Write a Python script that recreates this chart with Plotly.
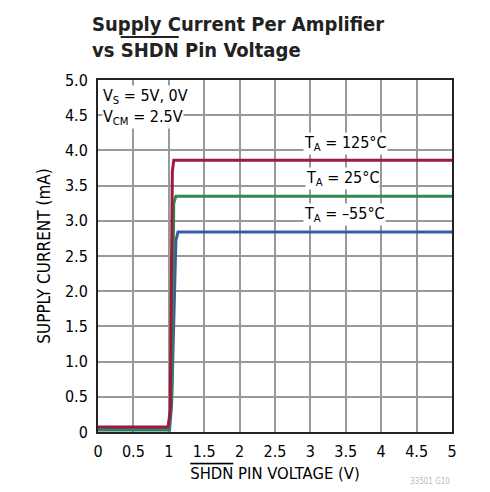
import plotly.graph_objects as go

# Data
x_125 = [0, 0.99, 1.02, 1.05, 1.07, 5]
y_125 = [0.07, 0.07, 0.3, 3.7, 3.86, 3.86]
x_25 = [0, 1.0, 1.04, 1.07, 1.10, 5]
y_25 = [0.04, 0.04, 0.5, 3.25, 3.35, 3.35]
x_m55 = [0, 1.01, 1.04, 1.10, 1.13, 5]
y_m55 = [0.03, 0.03, 0.4, 2.72, 2.84, 2.84]

series = [
    ("T_A = 125°C", x_125, y_125, "#9c1a3c"),
    ("T_A = 25°C", x_25, y_25, "#2e8b4c"),
    ("T_A = -55°C", x_m55, y_m55, "#3b5aa6"),
]

x_ticks = [0, 0.5, 1, 1.5, 2, 2.5, 3, 3.5, 4, 4.5, 5]
x_ticktext = ["0", "0.5", "1", "1.5", "2", "2.5", "3", "3.5", "4", "4.5", "5"]
y_ticks = [0, 0.5, 1, 1.5, 2, 2.5, 3, 3.5, 4, 4.5, 5]
y_ticktext = ["0", "0.5", "1.0", "1.5", "2.0", "2.5", "3.0", "3.5", "4.0", "4.5", "5.0"]

FONT = "DejaVu Sans Condensed, Liberation Sans, sans-serif"

# page has an 8px body margin; compensate so the plot lands where the reference has it
W, H = 482, 484
L, T = 90, 72
R = W - 444
B = H - 424

fig = go.Figure()
for name, xs, ys, col in reversed(series):
    fig.add_trace(go.Scatter(x=xs, y=ys, mode="lines", name=name,
                             line=dict(color=col, width=3), showlegend=False))

labels = [
    ("T<sub>A</sub> = 125°C", 3.49, 4.1),
    ("T<sub>A</sub> = 25°C", 3.46, 3.6),
    ("T<sub>A</sub> = –55°C", 3.48, 3.09),
]
for txt, lx, ly in labels:
    fig.add_annotation(x=lx, y=ly, text=txt, showarrow=False,
                       font=dict(family=FONT, size=16, color="black"),
                       bgcolor="white", borderpad=0)

fig.add_annotation(x=0.05, y=4.77, text="V<sub>S</sub> = 5V, 0V", showarrow=False,
                   xanchor="left", font=dict(family=FONT, size=16, color="black"),
                   bgcolor="white", borderpad=0)
fig.add_annotation(x=0.05, y=4.47, text="V<sub>CM</sub> = 2.5V", showarrow=False,
                   xanchor="left", font=dict(family=FONT, size=16, color="black"),
                   bgcolor="white", borderpad=0)

# title as annotation
fig.add_annotation(xref="paper", yref="paper", x=-8 / (W - L - R), xanchor="left",
                   y=1 + (T - 2) / (H - T - B), yanchor="top",
                   text="<b>Supply Current Per Amplifier<br>vs <span style='text-decoration:overline'>SHDN</span> Pin Voltage</b>",
                   showarrow=False, align="left",
                   font=dict(family=FONT, size=20, color="#222"))

fig.add_annotation(xref="paper", yref="paper", x=1.0, xanchor="right",
                   y=-(B - 4) / (H - T - B), yanchor="bottom",
                   text="33501 G10", showarrow=False,
                   font=dict(family=FONT, size=8, color="#bbb"))

fig.update_layout(
    width=W, height=H,
    margin=dict(l=L, r=R, t=T, b=B),
    paper_bgcolor="white", plot_bgcolor="white",
    font=dict(family=FONT, size=16, color="black"),
)
fig.update_xaxes(range=[0, 5], tickvals=x_ticks, ticktext=x_ticktext,
                 showgrid=True, gridcolor="#999", gridwidth=1.5,
                 showline=True, linecolor="#222", linewidth=2, mirror=True,
                 ticks="", zeroline=False, ticklabelstandoff=4,
                 title=dict(text="<span style='text-decoration:overline'>SHDN</span> PIN VOLTAGE (V)",
                            font=dict(family=FONT, size=16.5), standoff=7),
                 tickfont=dict(family=FONT, size=16))
fig.update_yaxes(range=[0, 5], tickvals=y_ticks, ticktext=y_ticktext,
                 showgrid=True, gridcolor="#999", gridwidth=1.5,
                 showline=True, linecolor="#222", linewidth=2, mirror=True,
                 ticks="", zeroline=False, ticklabelstandoff=5,
                 title=dict(text="SUPPLY CURRENT (mA)", font=dict(family=FONT, size=17), standoff=10),
                 tickfont=dict(family=FONT, size=16))

fig.write_html("out.html")
